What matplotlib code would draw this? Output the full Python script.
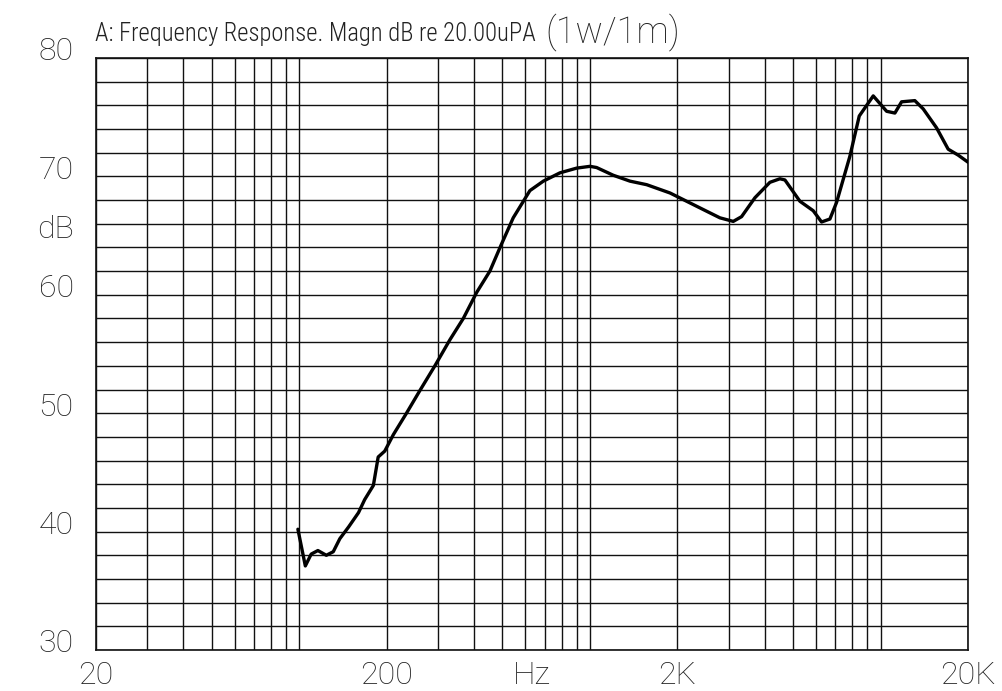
import matplotlib
matplotlib.use('Agg')
import matplotlib.pyplot as plt
from matplotlib import font_manager, ticker, transforms

# frequency response (Hz, dB SPL)
freq = [99, 105, 110, 116, 124, 131, 138, 148, 160, 168, 180, 187, 197, 211,
        234, 260, 293, 330, 367, 408, 453, 491, 545, 622, 692, 789, 901, 1001,
        1055, 1203, 1374, 1569, 1887, 2153, 2456, 2803, 3115, 3327, 3699, 4164,
        4507, 4690, 5282, 5869, 6269, 6697, 7060, 7846, 8451, 9441, 10496,
        11207, 11818, 13126, 14027, 15591, 17093, 18497, 20000]
spl = [40.2, 37.1, 38.1, 38.4, 38.0, 38.3, 39.4, 40.4, 41.6, 42.7, 43.9, 46.3,
       46.8, 48.2, 50.0, 51.9, 54.0, 56.2, 58.0, 60.2, 62.0, 64.0, 66.5, 68.8,
       69.6, 70.3, 70.7, 70.85, 70.75, 70.1, 69.6, 69.3, 68.6, 67.9, 67.2, 66.5,
       66.2, 66.6, 68.2, 69.5, 69.8, 69.7, 67.9, 67.1, 66.15, 66.4, 67.8, 71.7,
       75.1, 76.8, 75.5, 75.35, 76.3, 76.4, 75.7, 74.1, 72.3, 71.8, 71.2]

x_ticks = [20, 200, 632, 2000, 20000]
x_labels = ['20', '200', 'Hz', '2K', '20K']
y_ticks = [30, 40, 50, 60, 65, 70, 80]
y_labels = ['30', '40', '50', '60', 'dB', '70', '80']

x_grid = [m * 10 ** e for e in range(1, 5) for m in range(1, 10)
          if 20 <= m * 10 ** e <= 20000]
y_grid = list(range(30, 81, 2))

# a narrow face for the title, if one is around
fonts = font_manager.fontManager.ttflist
names = {f.name for f in fonts}
title_kw = dict(family='Roboto', fontsize=15)
if 'Roboto Condensed' in names:
    title_kw = dict(family='Roboto Condensed', fontweight='light', fontsize=17.7)
elif 'Liberation Sans Narrow' in names:
    title_kw = dict(family='Liberation Sans Narrow', fontsize=17)
elif any(f.name == 'DejaVu Sans' and f.stretch == 'condensed' for f in fonts):
    title_kw = dict(family='DejaVu Sans', fontstretch='condensed', fontsize=15.5)
lab_font = 'Roboto' if 'Roboto' in names else 'DejaVu Sans'

fig = plt.figure(figsize=(10.03, 6.91), dpi=100)
ax = fig.add_axes([96 / 1003, 1 - 650 / 691, 872 / 1003, 592 / 691])

ax.set_xscale('log')
ax.set_xlim(20, 20000)
ax.set_ylim(30, 80)

ax.plot(freq, spl, color='black', lw=2.4, solid_joinstyle='round',
        solid_capstyle='round', zorder=3)

ax.xaxis.set_minor_locator(ticker.FixedLocator(x_grid))
ax.yaxis.set_minor_locator(ticker.FixedLocator(y_grid))
ax.xaxis.remove_overlapping_locs = False
ax.yaxis.remove_overlapping_locs = False
ax.grid(which='minor', color='#111111', lw=1.0)
ax.grid(which='major', visible=False)

ax.set_xticks(x_ticks)
ax.set_xticklabels(x_labels)
ax.set_yticks(y_ticks)
ax.set_yticklabels(y_labels)
ax.xaxis.set_minor_formatter(ticker.NullFormatter())
ax.tick_params(which='both', length=0)
ax.tick_params(axis='x', pad=8)
ax.tick_params(axis='y', pad=16)

for lab in ax.get_xticklabels() + ax.get_yticklabels():
    lab.set_fontfamily(lab_font)
    lab.set_fontweight('light')
    lab.set_fontsize(23)
    lab.set_color('#222222')
# the y numbers sit a little above their lines
shift = transforms.ScaledTranslation(0, 9 / 100, fig.dpi_scale_trans)
for lab in ax.get_yticklabels():
    lab.set_transform(lab.get_transform() + shift)

for sp in ax.spines.values():
    sp.set_color('#111111')
    sp.set_linewidth(1.2)

fig.text(95 / 1003, 1 - 34 / 691, 'A: Frequency Response. Magn dB re 20.00uPA',
         color='#222222', ha='left', va='center', **title_kw)
fig.text(545 / 1003, 1 - 32 / 691, '(1w/1m)', family=lab_font, fontweight='light',
         fontsize=26, color='#222222', ha='left', va='center')

fig.savefig('out.png', dpi=100)
